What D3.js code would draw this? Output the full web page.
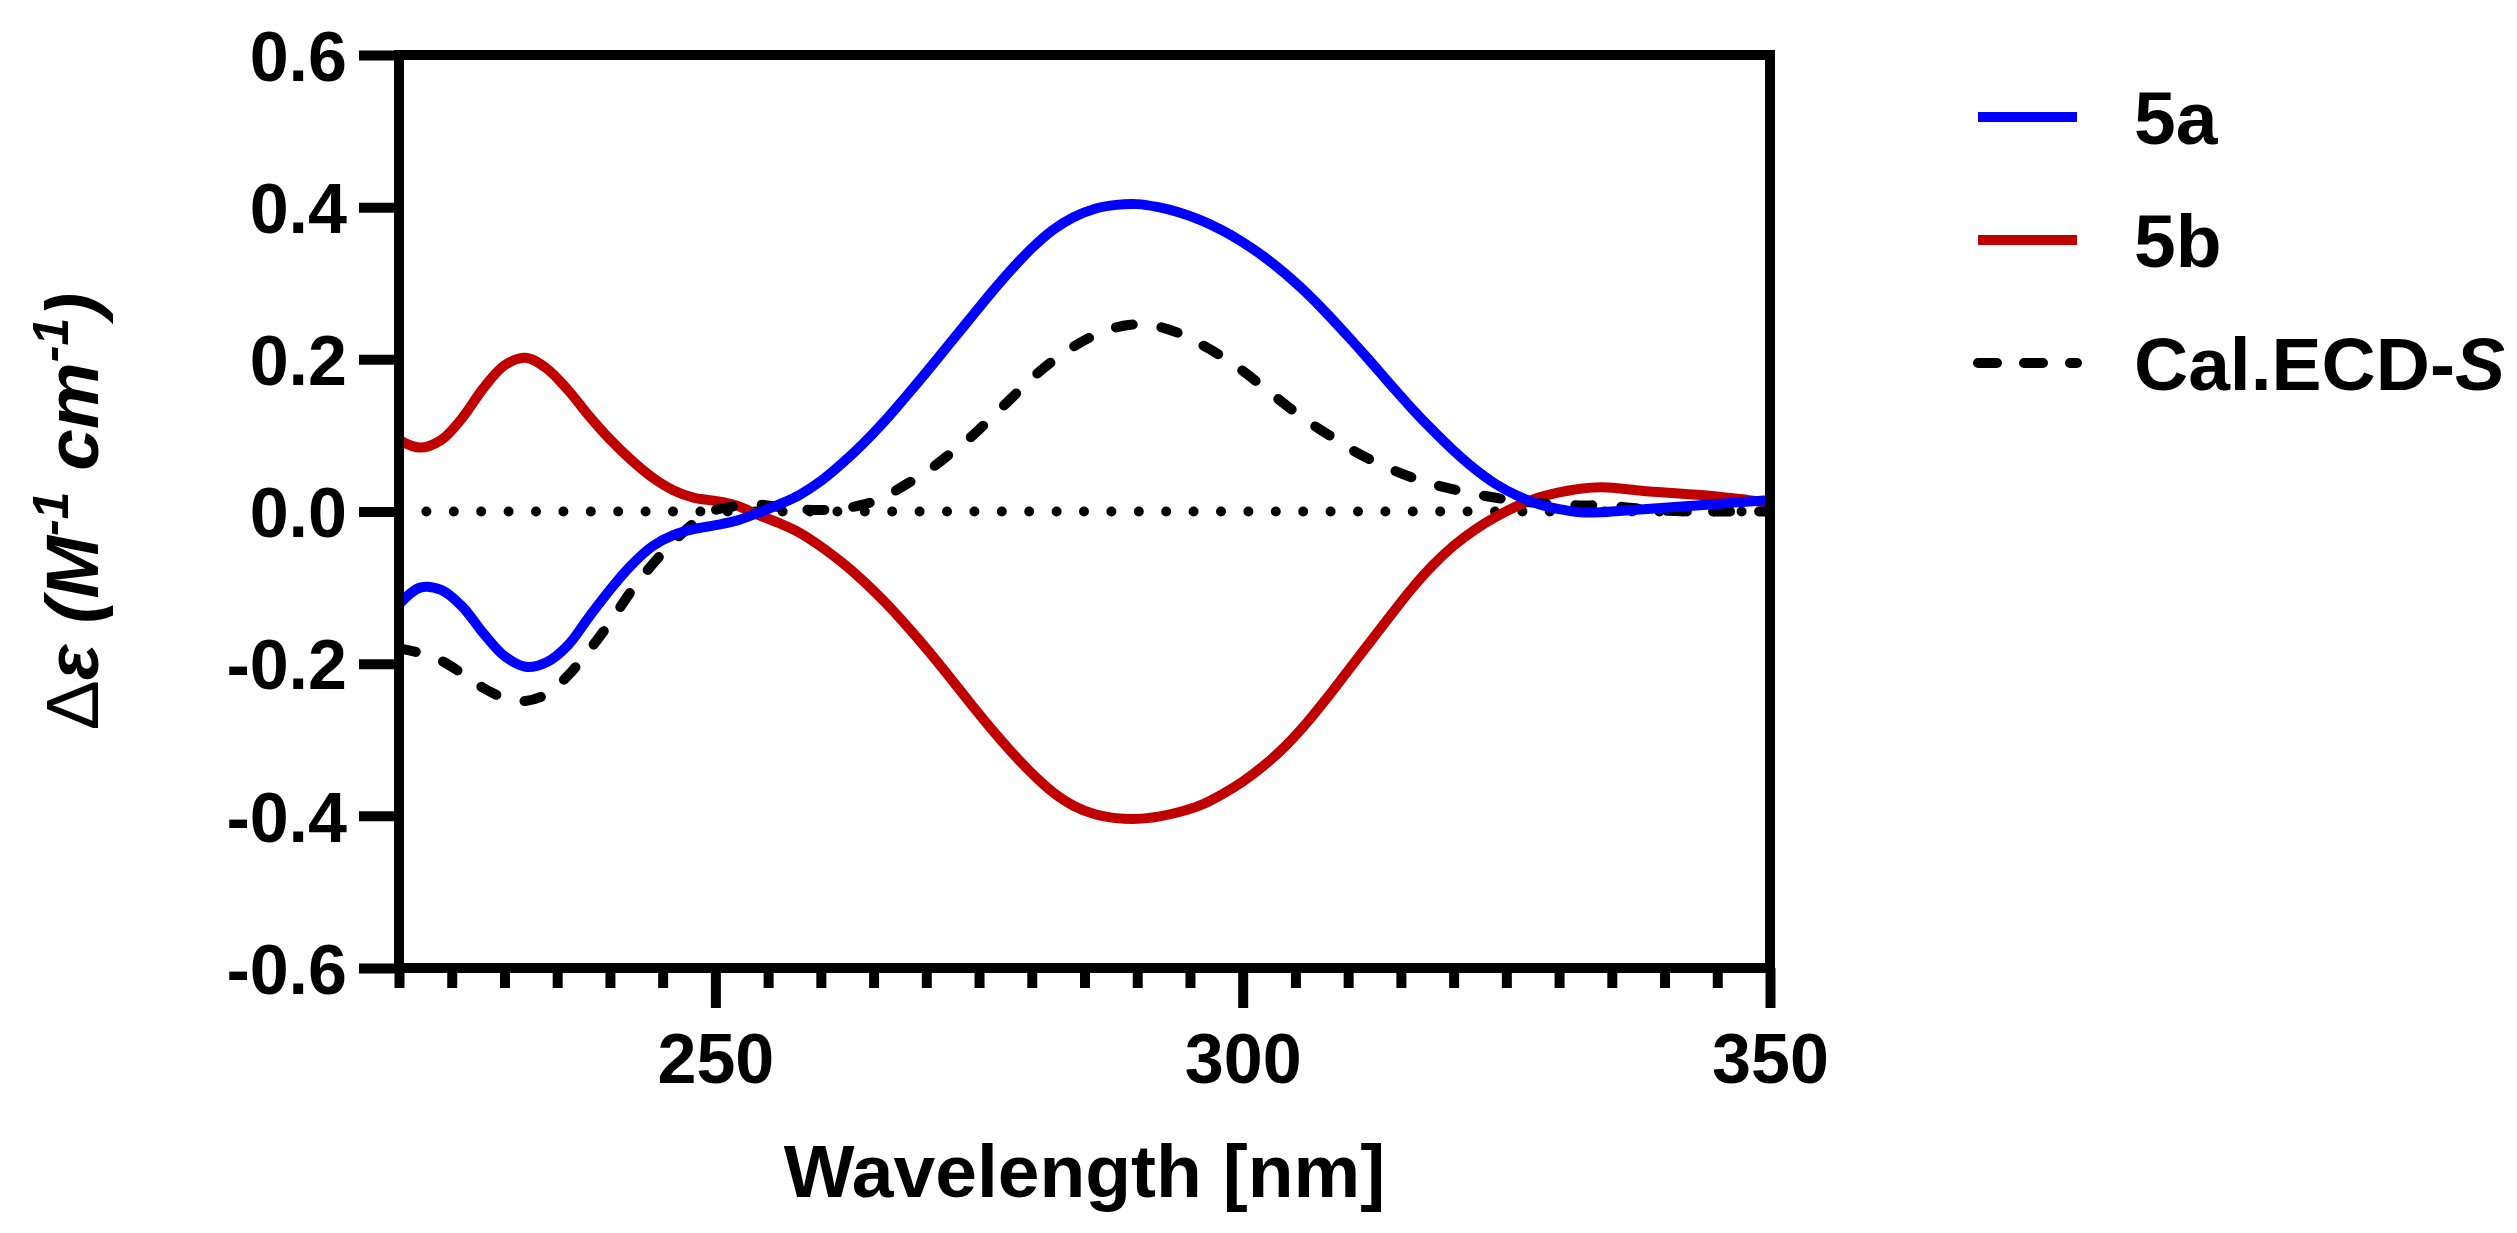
<!DOCTYPE html>
<html>
<head>
<meta charset="utf-8">
<script src="https://cdn.jsdelivr.net/npm/d3@7"></script>
<style>
  body { margin: 0; background: #fff; }
  text { font-family: "Liberation Sans", Arial, sans-serif; font-weight: bold; fill: #000; }
</style>
</head>
<body>
<svg width="2517" height="1233"></svg>
<script>
let wavelength = [220, 222, 224, 226, 228, 230, 232, 234, 236, 238,
    240, 242, 244, 246, 248, 250, 252, 254, 256, 258,
    260, 262, 264, 266, 268, 270, 272, 274, 276, 278,
    280, 282, 284, 286, 288, 290, 292, 294, 296, 298,
    300, 302, 304, 306, 308, 310, 312, 314, 316, 318,
    320, 322, 324, 326, 328, 330, 332, 334, 336, 338,
    340, 342, 344, 346, 348, 350]

let cd5a = [-0.122, -0.100, -0.103, -0.125, -0.160, -0.190, -0.204, -0.198, -0.176, -0.139,
    -0.103, -0.071, -0.046, -0.031, -0.023, -0.018, -0.012, -0.002, 0.009, 0.022,
    0.040, 0.063, 0.089, 0.118, 0.150, 0.183, 0.217, 0.251, 0.285, 0.317,
    0.346, 0.370, 0.387, 0.398, 0.403, 0.404, 0.400, 0.393, 0.383, 0.370,
    0.354, 0.335, 0.313, 0.288, 0.260, 0.230, 0.199, 0.167, 0.136, 0.107,
    0.080, 0.056, 0.036, 0.021, 0.010, 0.003, -0.001, -0.001, 0.001, 0.003,
    0.005, 0.007, 0.009, 0.011, 0.013, 0.015]

let cd5b = [0.094, 0.084, 0.094, 0.123, 0.162, 0.192, 0.202, 0.188, 0.160, 0.126,
    0.095, 0.068, 0.045, 0.028, 0.018, 0.014, 0.008, -0.004, -0.015, -0.028,
    -0.046, -0.067, -0.091, -0.118, -0.148, -0.180, -0.214, -0.249, -0.283, -0.315,
    -0.344, -0.369, -0.387, -0.398, -0.403, -0.404, -0.401, -0.395, -0.386, -0.372,
    -0.355, -0.334, -0.309, -0.279, -0.245, -0.209, -0.173, -0.137, -0.102, -0.071,
    -0.045, -0.024, -0.007, 0.007, 0.018, 0.025, 0.030, 0.032, 0.030, 0.027,
    0.025, 0.023, 0.021, 0.018, 0.015, 0.011]

let calS = [-0.180, -0.186, -0.196, -0.213, -0.232, -0.245, -0.249, -0.240, -0.216, -0.183,
    -0.146, -0.105, -0.070, -0.040, -0.015, 0.002, 0.007, 0.009, 0.006, 0.003,
    0.002, 0.004, 0.009, 0.019, 0.035, 0.052, 0.073, 0.095, 0.121, 0.148,
    0.175, 0.198, 0.217, 0.232, 0.242, 0.246, 0.243, 0.234, 0.220, 0.204,
    0.185, 0.163, 0.141, 0.120, 0.102, 0.084, 0.069, 0.056, 0.045, 0.036,
    0.029, 0.023, 0.018, 0.014, 0.011, 0.009, 0.008, 0.008, 0.006, 0.003,
    0.001, 0.000, 0.000, 0.000, 0.000, 0.000]

let yTicks = [-0.6, -0.4, -0.2, 0, 0.2, 0.4, 0.6]
let xTicks = [250, 300, 350]
let xMinorTicks = [220, 225, 230, 235, 240, 245, 255, 260, 265, 270, 275, 280, 285, 290, 295,
    305, 310, 315, 320, 325, 330, 335, 340, 345]

let series = [
    { name: '5b', values: cd5b, color: '#c00000', dash: null },
    { name: 'Cal.ECD-S', values: calS, color: '#000000', dash: '17,29' },
    { name: '5a', values: cd5a, color: '#0000ff', dash: null }
]
let legendItems = [
    { label: '5a', color: '#0000ff', dash: null },
    { label: '5b', color: '#c00000', dash: null },
    { label: 'Cal.ECD-', italic: 'S', color: '#000000', dash: '19,27' }
]

let x = d3.scaleLinear().domain([220, 350]).range([399, 1770])
let y = d3.scaleLinear().domain([-0.6, 0.6]).range([968, 55])

let svg = d3.select('svg')

// zero reference line (dotted)
svg.append('line')
    .attr('x1', x(220)).attr('x2', x(350))
    .attr('y1', y(0)).attr('y2', y(0))
    .attr('stroke', '#000')
    .attr('stroke-width', 10)
    .attr('stroke-linecap', 'round')
    .attr('stroke-dasharray', '0,27.4')

let line = d3.line()
    .x((d, i) => x(wavelength[i]))
    .y(d => y(d))
    .curve(d3.curveCatmullRom)

svg.selectAll('path.series')
    .data(series)
    .enter()
    .append('path')
    .attr('class', 'series')
    .attr('d', d => line(d.values))
    .attr('fill', 'none')
    .attr('stroke', d => d.color)
    .attr('stroke-width', 10)
    .attr('stroke-linecap', d => d.dash ? 'round' : 'butt')
    .attr('stroke-dasharray', d => d.dash)

// frame
svg.append('rect')
    .attr('x', x(220)).attr('y', y(0.6))
    .attr('width', x(350) - x(220))
    .attr('height', y(-0.6) - y(0.6))
    .attr('fill', 'none')
    .attr('stroke', '#000')
    .attr('stroke-width', 10)

let yAxis = svg.append('g')
    .attr('transform', `translate(${x(220)},0)`)
    .call(d3.axisLeft(y).tickValues(yTicks).tickSize(40).tickSizeOuter(0)
        .tickPadding(12).tickFormat(d => d.toFixed(1)))
yAxis.select('.domain').remove()
yAxis.selectAll('line').attr('stroke-width', 10)
yAxis.selectAll('text')
    .attr('dy', '0.36em')
    .style('font-size', '70px')
    .attr('font-family', null)

let xMinor = svg.append('g')
    .attr('transform', `translate(0,${y(-0.6)})`)
    .call(d3.axisBottom(x).tickValues(xMinorTicks).tickSize(20).tickSizeOuter(0).tickFormat(''))
xMinor.select('.domain').remove()
xMinor.selectAll('line').attr('stroke-width', 10)

let xAxis = svg.append('g')
    .attr('transform', `translate(0,${y(-0.6)})`)
    .call(d3.axisBottom(x).tickValues(xTicks).tickSize(40).tickSizeOuter(0).tickPadding(25))
xAxis.select('.domain').remove()
xAxis.selectAll('line').attr('stroke-width', 10)
xAxis.selectAll('text')
    .style('font-size', '70px')
    .attr('font-family', null)

svg.append('text')
    .attr('x', (x(220) + x(350)) / 2)
    .attr('y', 1197)
    .attr('text-anchor', 'middle')
    .style('font-size', '75px')
    .text('Wavelength [nm]')

// y title
let yt = svg.append('text')
    .attr('transform', `translate(98,${y(0)}) rotate(-90)`)
    .attr('text-anchor', 'middle')
    .style('font-size', '75px')
yt.append('tspan').style('font-weight', 'normal').text('Δ')
yt.append('tspan').style('font-style', 'italic').text('ε (M')
yt.append('tspan').style('font-style', 'italic').style('font-size', '50px').attr('dy', -30).text('-1')
yt.append('tspan').style('font-style', 'italic').attr('dy', 30).text('  cm')
yt.append('tspan').style('font-style', 'italic').style('font-size', '50px').attr('dy', -30).text('-1')
yt.append('tspan').style('font-style', 'italic').attr('dy', 30).text(')')

// legend
let legend = svg.append('g').attr('class', 'legend')
legend.selectAll('line')
    .data(legendItems)
    .enter()
    .append('line')
    .attr('x1', 1978).attr('x2', 2077)
    .attr('y1', (d, i) => 117 + 123 * i)
    .attr('y2', (d, i) => 117 + 123 * i)
    .attr('stroke', d => d.color)
    .attr('stroke-width', 10)
    .attr('stroke-linecap', d => d.dash ? 'round' : 'butt')
    .attr('stroke-dasharray', d => d.dash)

let lt = legend.selectAll('text')
    .data(legendItems)
    .enter()
    .append('text')
    .attr('x', 2134)
    .attr('y', (d, i) => 144 + 123 * i)
    .style('font-size', '75px')
lt.append('tspan').text(d => d.label)
lt.filter(d => d.italic).append('tspan').style('font-style', 'italic').text(d => d.italic)
</script>
</body>
</html>
